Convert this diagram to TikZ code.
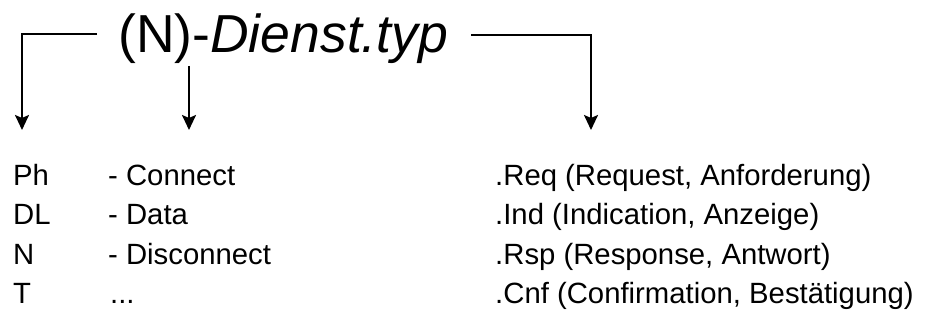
\documentclass[tikz,border=0pt]{standalone}
\usepackage{fontspec}
\setmainfont{Liberation Sans}
\usetikzlibrary{arrows.meta}
\begin{document}
\begin{tikzpicture}[x=1pt,y=1pt,
  conn/.style={line width=2.2pt,-{Stealth[length=15pt,width=14pt,inset=3pt]}},
  lbl/.style={anchor=base west,inner sep=0pt,font=\fontsize{29.3}{35}\selectfont},
  ttl/.style={anchor=base west,inner sep=0pt,font=\fontsize{53.5}{60}\selectfont}]
\useasboundingbox (0,0) rectangle (951,320);
\node[ttl] (title) at (118,267) {(N)-\textit{Dienst.typ}};
% arrows
\coordinate (lstart) at (97,286);
\coordinate (lcorner) at (22,286);
\coordinate (ltip) at (22,190);
\coordinate (mstart) at (189,254);
\coordinate (mtip) at (189,190);
\coordinate (rstart) at (471,285);
\coordinate (rcorner) at (591,285);
\coordinate (rtip) at (591,190);
\draw[conn] (lstart) -- (lcorner) -- (ltip);
\draw[conn] (mstart) -- (mtip);
\draw[conn] (rstart) -- (rcorner) -- (rtip);
% rows
\node[lbl] (a1) at (13,134) {Ph};
\node[lbl] (a2) at (13,95) {DL};
\node[lbl] (a3) at (13,55) {N};
\node[lbl] (a4) at (13,16) {T};
\node[lbl] (b1) at (108,134) {- Connect};
\node[lbl] (b2) at (108,95) {- Data};
\node[lbl] (b3) at (108,55) {- Disconnect};
\node[lbl] (b4) at (110,16) {...};
\node[lbl] (c1) at (495,134) {.Req (Request, Anforderung)};
\node[lbl] (c2) at (495,95) {.Ind (Indication, Anzeige)};
\node[lbl] (c3) at (495,55) {.Rsp (Response, Antwort)};
\node[lbl] (c4) at (495,16) {.Cnf (Confirmation, Bestätigung)};
\end{tikzpicture}
\end{document}
